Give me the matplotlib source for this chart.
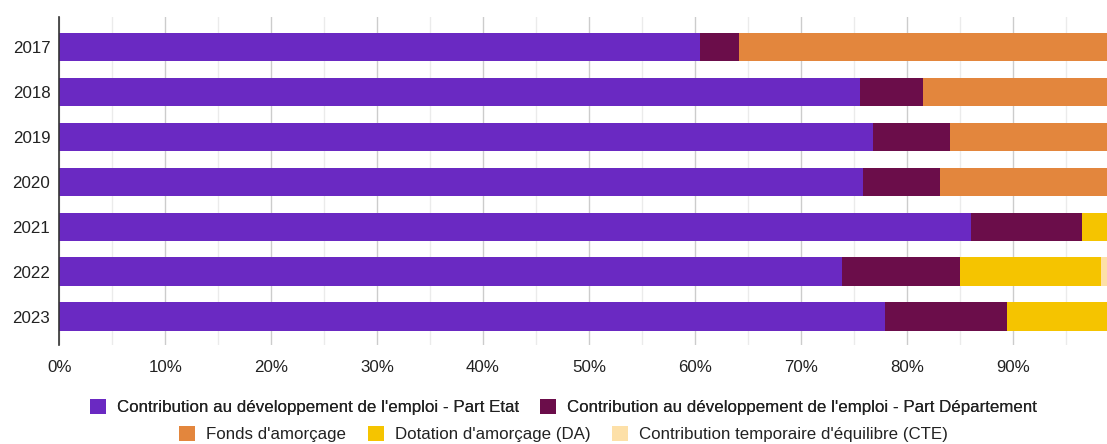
import numpy as np
import matplotlib.pyplot as plt
from matplotlib.patches import Patch
from matplotlib.ticker import MultipleLocator, PercentFormatter

# Données (parts en fraction du total)
annees = ['2017', '2018', '2019', '2020', '2021', '2022', '2023']
part_etat = [0.605, 0.756, 0.768, 0.759, 0.861, 0.739, 0.779]
part_dept = [0.037, 0.059, 0.073, 0.072, 0.1045, 0.111, 0.1156]
fonds_amorcage = [0.358, 0.185, 0.159, 0.169, 0.0, 0.0, 0.0]
dotation_amorcage = [0.0, 0.0, 0.0, 0.0, 0.0345, 0.1337, 0.1054]
cte = [0.0, 0.0, 0.0, 0.0, 0.0, 0.0163, 0.0]

series = [
    ("Contribution au développement de l'emploi - Part Etat", part_etat, '#6a29c2'),
    ("Contribution au développement de l'emploi - Part Département", part_dept, '#6b0d4a'),
    ("Fonds d'amorçage", fonds_amorcage, '#e3863d'),
    ("Dotation d'amorçage (DA)", dotation_amorcage, '#f5c400'),
    ("Contribution temporaire d'équilibre (CTE)", cte, '#fde0a8'),
]

plt.rcParams['font.family'] = ['Liberation Sans', 'DejaVu Sans']
taille = 12.2

fig = plt.figure(figsize=(11.07, 4.44), dpi=100, facecolor='white')
ax = fig.add_axes([0.0536, 0.223, 0.9464, 0.739])

y = np.arange(len(annees))
gauche = np.zeros(len(annees))
for nom, vals, couleur in series:
    vals = np.array(vals)
    ax.barh(y, vals, left=gauche, height=0.63, color=couleur, label=nom, zorder=2)
    gauche += vals

ax.set_xlim(0, 0.989)
ax.set_ylim(6.634, -0.67)
ax.set_yticks(y)
ax.set_yticklabels(annees)

ax.xaxis.set_major_locator(MultipleLocator(0.1))
ax.xaxis.set_minor_locator(MultipleLocator(0.05))
ax.xaxis.set_major_formatter(PercentFormatter(1.0, decimals=0))
ax.grid(axis='x', which='major', color='#cccccc', lw=1, zorder=0)
ax.grid(axis='x', which='minor', color='#ebebeb', lw=1, zorder=0)
ax.set_axisbelow(True)

ax.tick_params(axis='both', which='both', length=0, labelsize=taille, colors='#222222')
ax.tick_params(axis='x', pad=11)
ax.tick_params(axis='y', pad=6.5)

for s in ('top', 'right', 'bottom'):
    ax.spines[s].set_visible(False)
ax.spines['left'].set_color('#333333')
ax.spines['left'].set_linewidth(1.2)
ax.spines['left'].set_zorder(3)

# Légende sur deux lignes
poignees = [Patch(facecolor=c, edgecolor='none', label=n) for n, _, c in series]
opts = dict(loc='center', frameon=False, fontsize=taille, handlelength=0.95,
            handleheight=0.95, handletextpad=0.65, columnspacing=1.25,
            labelcolor='#222222', borderpad=0, borderaxespad=0)
leg1 = fig.legend(handles=poignees[:2], bbox_to_anchor=(0.509, 0.083), ncol=2, **opts)
leg2 = fig.legend(handles=poignees[2:], bbox_to_anchor=(0.509, 0.022), ncol=3, **opts)
fig.add_artist(leg1)

fig.savefig('out.png', dpi=100, facecolor='white')
